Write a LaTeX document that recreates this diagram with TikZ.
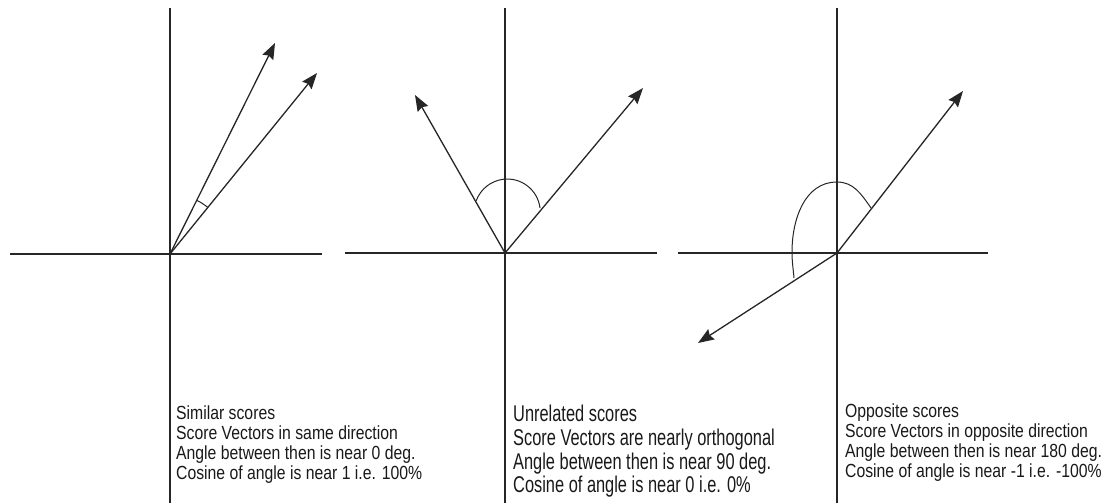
\documentclass[tikz,border=0pt]{standalone}
\usepackage{fontspec}
\setmainfont{Liberation Sans}
\usepackage{tikz}
\usetikzlibrary{
    arrows.meta,
    calc
}
\tikzset{
    axis/.style={
        draw=black!85,
        line width=1.3pt
    }
}
\tikzset{
    vector/.style={
        draw=black!85,
        line width=1.3pt,
        -{Stealth[length=16pt,width=12pt,inset=2pt]}
    }
}
\tikzset{
    anglemark/.style={
        draw=black!85,
        line width=1pt
    }
}
\tikzset{
    caption/.style={
        anchor=north west,
        inner sep=0pt,
        align=left,
        text=black!90,
        font=\fontsize{19}{19.7}\selectfont,
        xscale=0.83,
        transform shape
    }
}

\begin{document}
\begin{tikzpicture}[
    x=1pt,
    y=1pt
]

\useasboundingbox (0,0) rectangle (1107,-503);

% similar
\coordinate (o1) at (170,-254);
\coordinate (top1) at (170,-8);
\coordinate (bot1) at (170,-503);
\coordinate (left1) at (10,-254);
\coordinate (right1) at (322,-254);
\coordinate (v1a) at (275,-43);
\coordinate (v1b) at (317,-73);

\draw[axis] (top1) -- (bot1);
\draw[axis] (left1) -- (right1);
\draw[vector] (o1) -- (v1a);
\draw[vector] (o1) -- (v1b);
\draw[anglemark] (o1) ++(50.8:60) arc[start angle=50.8, end angle=63.4, radius=60];

\node[caption] (similar) at (176,-406)
    {Similar scores\\
     Score Vectors in same direction\\
     Angle between then is near 0 deg.\\
     Cosine of angle is near 1 i.e. 100\%};

% unrelated
\coordinate (o2) at (505,-253);
\coordinate (top2) at (505,-8);
\coordinate (bot2) at (505,-503);
\coordinate (left2) at (345,-253);
\coordinate (right2) at (657,-253);
\coordinate (v2a) at (415,-95);
\coordinate (v2b) at (643,-88);
\coordinate (a2) at (540,-208);

\draw[axis] (top2) -- (bot2);
\draw[axis] (left2) -- (right2);
\draw[vector] (o2) -- (v2a);
\draw[vector] (o2) -- (v2b);
\draw[anglemark] (a2) arc[start angle=7, end angle=160, radius=33];

\node[caption, xscale=1.04, yscale=1.2] (unrelated) at (513,-405)
    {Unrelated scores\\
     Score Vectors are nearly orthogonal\\
     Angle between then is near 90 deg.\\
     Cosine of angle is near 0 i.e. 0\%};

% opposite
\coordinate (o3) at (837,-253);
\coordinate (top3) at (837,-8);
\coordinate (bot3) at (837,-503);
\coordinate (left3) at (678,-253);
\coordinate (right3) at (988,-253);
\coordinate (v3a) at (963,-91);
\coordinate (v3b) at (698,-343);
\coordinate (a3) at (871,-208);

\draw[axis] (top3) -- (bot3);
\draw[axis] (left3) -- (right3);
\draw[vector] (o3) -- (v3a);
\draw[vector] (o3) -- (v3b);
\draw[anglemark] (a3)
    to[out=125,in=0] (837,-182)
    to[out=180,in=90] (792,-252)
    to[out=-90,in=95] (794,-278);

\node[caption] (opposite) at (845,-404)
    {Opposite scores\\
     Score Vectors in opposite direction\\
     Angle between then is near 180 deg.\\
     Cosine of angle is near -1 i.e. -100\%};

\end{tikzpicture}
\end{document}
